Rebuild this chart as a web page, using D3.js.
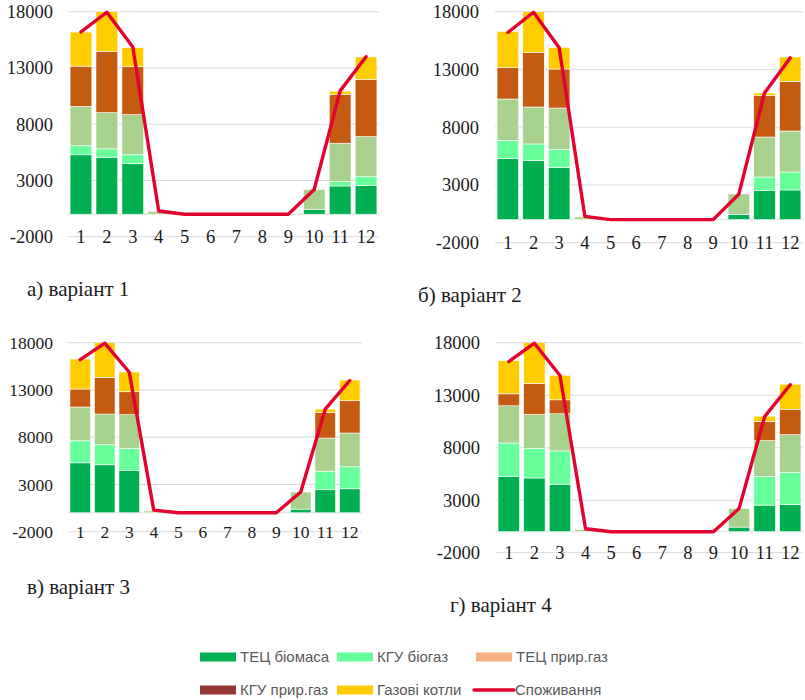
<!DOCTYPE html>
<html><head><meta charset="utf-8">
<script src="https://cdn.jsdelivr.net/npm/d3@7"></script>
<style>body{margin:0;background:#fff}svg{display:block}</style>
</head><body>
<svg id="c" width="805" height="700"></svg>
<script>
const months = ["1","2","3","4","5","6","7","8","9","10","11","12"];
const seriesNames = ["ТЕЦ біомаса","КГУ біогаз","ТЕЦ прир.газ","КГУ прир.газ","Газові котли"];
const yTicks = [-2000, 3000, 8000, 13000, 18000];
const captions = ["а) варіант 1","б) варіант 2","в) варіант 3","г) варіант 4"];
const consumption = [16200,17950,14870,280,0,0,0,0,0,2200,10960,14000];

// variant 1
const tecBio1 = [5280,5070,4510,0,0,0,0,0,0,440,2510,2570];
const kguBio1 = [800,740,770,0,0,0,0,0,0,0,380,760];
const tecGas1 = [3510,3220,3570,250,0,0,0,0,0,1770,3420,3570];
const kguGas1 = [3570,5420,4280,0,0,0,0,0,0,0,4340,5080];
const boiler1 = [3030,3550,1680,0,0,0,0,0,0,0,290,2000];
// variant 2
const tecBio2 = [5280,5110,4500,0,0,0,0,0,0,460,2510,2570];
const kguBio2 = [1580,1440,1590,0,0,0,0,0,0,0,1180,1550];
const tecGas2 = [3580,3200,3570,230,0,0,0,0,0,1760,3460,3550];
const kguGas2 = [2710,4700,3380,0,0,0,0,0,0,0,3580,4270];
const boiler2 = [3150,3550,1870,0,0,0,0,0,0,0,230,2140];
// variant 3
const tecBio3 = [5290,5080,4480,0,0,0,0,0,0,390,2440,2540];
const kguBio3 = [2330,2120,2330,0,0,0,0,0,0,0,1970,2330];
const tecGas3 = [3570,3250,3570,200,0,0,0,0,0,1800,3500,3570];
const kguGas3 = [1910,3850,2430,0,0,0,0,0,0,0,2710,3420];
const boiler3 = [3170,3700,2090,0,0,0,0,0,0,0,360,2190];
// variant 4
const tecBio4 = [5280,5120,4520,0,0,0,0,0,0,440,2530,2590];
const kguBio4 = [3170,2790,3170,0,0,0,0,0,0,0,2720,3070];
const tecGas4 = [3540,3260,3540,220,0,0,0,0,0,1770,3420,3580];
const kguGas4 = [1140,2940,1330,0,0,0,0,0,0,0,1830,2430];
const boiler4 = [3160,3890,2340,0,0,0,0,0,0,0,510,2380];

const variants = [
  [tecBio1,kguBio1,tecGas1,kguGas1,boiler1],
  [tecBio2,kguBio2,tecGas2,kguGas2,boiler2],
  [tecBio3,kguBio3,tecGas3,kguGas3,boiler3],
  [tecBio4,kguBio4,tecGas4,kguGas4,boiler4]
];

const barColors = ["#00B050","#66FF99","#A9D18E","#C55A11","#FFCC00"];
const legendColors = ["#00B050","#66FF99","#F4B183","#953735","#FFCC00"];
const lineColor = "#E4032E";

const layouts = [
  {x0:68, x1:379, yT:11.7, yB:236.7, lr:53, fs:18.5, cx:27, cy:296},
  {x0:495, x1:803, yT:11.7, yB:242.7, lr:479, fs:18.5, cx:418, cy:302},
  {x0:68, x1:362, yT:342.7, yB:531.7, lr:53, fs:17.5, cx:27, cy:594},
  {x0:496, x1:803, yT:342.7, yB:552.7, lr:480, fs:18.5, cx:450, cy:612}
];

const svg = d3.select("#c");
const serif = "'Liberation Serif','Times New Roman',serif";

variants.forEach((vals, vi) => {
  const L = layouts[vi];
  const g = svg.append("g");
  const x = d3.scaleBand().domain(months).range([L.x0, L.x1]).paddingInner(0.16).paddingOuter(0.08);
  const y = d3.scaleLinear().domain([-2000, 18000]).range([L.yB, L.yT]);

  g.selectAll("line.grid").data(yTicks).join("line")
    .attr("x1", L.x0).attr("x2", L.x1)
    .attr("y1", d => y(d)).attr("y2", d => y(d))
    .attr("stroke", "#D9D9D9").attr("stroke-width", 1);
  g.append("line").attr("x1", L.x0).attr("x2", L.x1)
    .attr("y1", y(0)).attr("y2", y(0)).attr("stroke", "#D9D9D9");

  g.selectAll("text.yl").data(yTicks).join("text")
    .attr("x", L.lr).attr("y", d => y(d)).attr("dy", "0.35em")
    .attr("text-anchor", "end").attr("font-family", serif)
    .attr("font-size", L.fs).attr("fill", "#1a1a1a").text(d => d);

  const rows = months.map((m, i) => {
    const o = {m};
    vals.forEach((s, si) => o["s" + si] = s[i]);
    return o;
  });
  const stack = d3.stack().keys(seriesNames.map((_, i) => "s" + i))(rows);
  const clipId = "clip" + vi;
  svg.append("clipPath").attr("id", clipId).append("rect")
    .attr("x", L.x0).attr("y", L.yT).attr("width", L.x1 - L.x0).attr("height", L.yB - L.yT);
  const bars = g.append("g").attr("clip-path", `url(#${clipId})`);
  stack.forEach((layer, li) => {
    bars.append("g").selectAll("rect").data(layer.filter(d => d[1] - d[0] > 0)).join("rect")
      .attr("x", d => x(d.data.m)).attr("width", x.bandwidth())
      .attr("y", d => y(d[1])).attr("height", d => y(d[0]) - y(d[1]))
      .attr("fill", barColors[li]).attr("stroke", "#ffffff").attr("stroke-width", 0.6);
  });

  const line = d3.line().x((d, i) => x(months[i]) + x.bandwidth() / 2).y(d => y(d));
  g.append("path").datum(consumption).attr("d", line)
    .attr("fill", "none").attr("stroke", lineColor).attr("stroke-width", 3.4)
    .attr("stroke-linejoin", "round").attr("stroke-linecap", "round");

  g.selectAll("text.xl").data(months).join("text")
    .attr("x", d => x(d) + x.bandwidth() / 2).attr("y", y(-2000)).attr("dy", "0.35em")
    .attr("text-anchor", "middle").attr("font-family", serif)
    .attr("font-size", L.fs).attr("fill", "#1a1a1a").text(d => d);

  svg.append("text").attr("x", L.cx).attr("y", L.cy)
    .attr("font-family", serif).attr("font-size", 21).attr("fill", "#1a1a1a")
    .text(captions[vi]);
});

const legendItems = [
  {name: seriesNames[0], color: legendColors[0], x: 200, y: 657, type: "rect"},
  {name: seriesNames[1], color: legendColors[1], x: 337, y: 657, type: "rect"},
  {name: seriesNames[2], color: legendColors[2], x: 476, y: 657, type: "rect"},
  {name: seriesNames[3], color: legendColors[3], x: 200, y: 690, type: "rect"},
  {name: seriesNames[4], color: legendColors[4], x: 337, y: 690, type: "rect"},
  {name: "Споживання", color: lineColor, x: 474, y: 690, type: "line"}
];
const lg = svg.append("g");
legendItems.forEach(it => {
  if (it.type === "rect") {
    lg.append("rect").attr("x", it.x).attr("y", it.y - 4.5).attr("width", 36).attr("height", 9).attr("fill", it.color);
    lg.append("text").attr("x", it.x + 40).attr("y", it.y).attr("dy", "0.35em")
      .attr("font-family", "'Liberation Sans',Arial,sans-serif").attr("font-size", 15).attr("fill", "#595959").text(it.name);
  } else {
    lg.append("line").attr("x1", it.x).attr("x2", it.x + 40).attr("y1", it.y).attr("y2", it.y)
      .attr("stroke", it.color).attr("stroke-width", 3.4).attr("stroke-linecap", "round");
    lg.append("text").attr("x", it.x + 41).attr("y", it.y).attr("dy", "0.35em")
      .attr("font-family", "'Liberation Sans',Arial,sans-serif").attr("font-size", 15).attr("fill", "#595959").text(it.name);
  }
});
</script>
</body></html>
